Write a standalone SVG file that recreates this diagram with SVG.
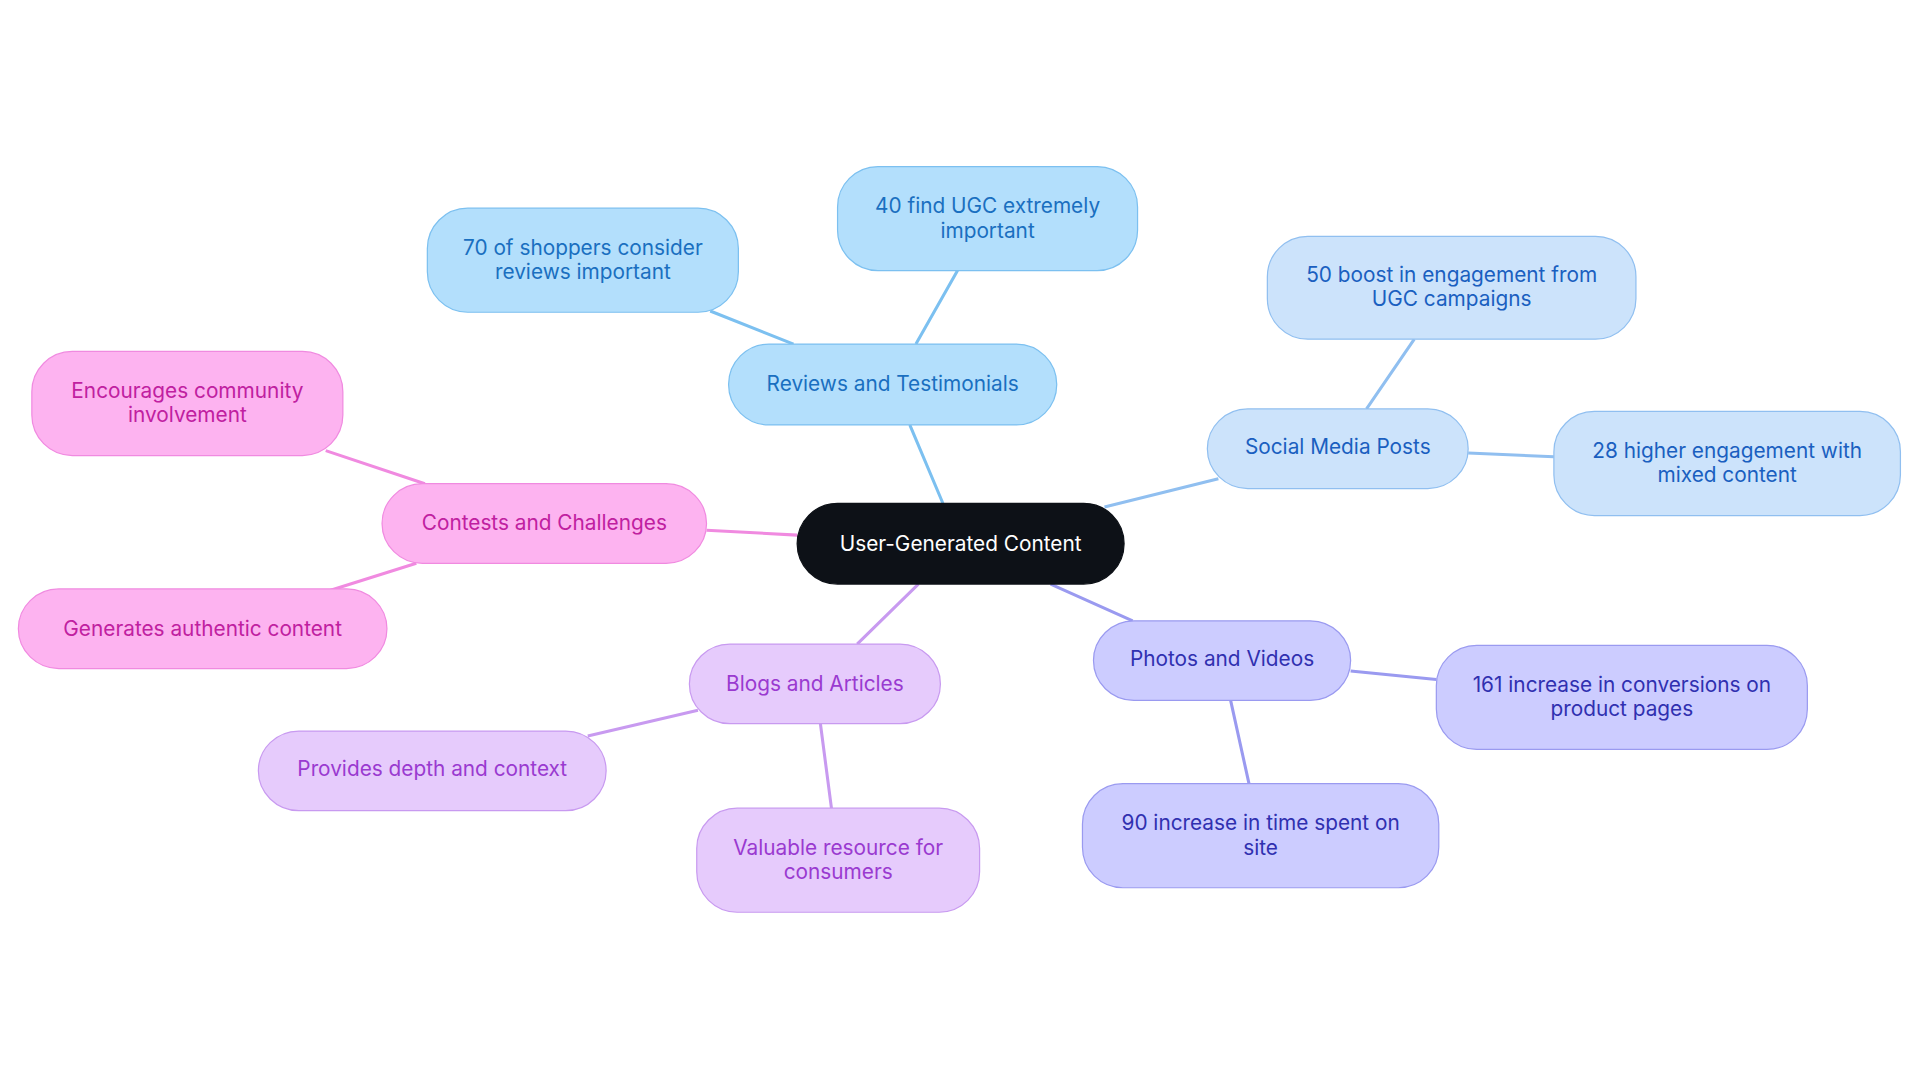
<svg xmlns="http://www.w3.org/2000/svg" width="1920" height="1083" viewBox="0 0 1920 1083">
<style>
text{font-family:Inter,"Noto Sans",sans-serif;font-size:17px;text-anchor:middle}
.e{fill:none;stroke-width:2.5}
.c rect{fill:#0d1117;stroke:#0d1117}.c text{fill:#fff}
.r rect{fill:#b3dffc;stroke:#7cc0f0}.r text{fill:#1a6fc0}
.s rect{fill:#cce3fb;stroke:#90bff0}.s text{fill:#1a5fc0}
.p rect{fill:#ccccff;stroke:#9a9af0}.p text{fill:#3030b0}
.b rect{fill:#e6cbfc;stroke:#c89af0}.b text{fill:#9a3ad0}
.k rect{fill:#fdb3f0;stroke:#f08ae0}.k text{fill:#c020a0}
</style>
<rect width="1920" height="1083" fill="#fff"/>
<g transform="scale(1.2245)">
<g id="connectors">
<path class="e" stroke="#7cc0f0" d="M770 411L743 347M648 281L580 254M748 281L782 221"/>
<path class="e" stroke="#90bff0" d="M902 414L995 391M1116 334L1155 277M1199 370L1269 373"/>
<path class="e" stroke="#9a9af0" d="M858 477L925 507M1103 548L1173 555M1005 572L1020 640"/>
<path class="e" stroke="#c89af0" d="M750 477L700 526M570 580L480 601M670 591L679 660"/>
<path class="e" stroke="#f08ae0" d="M651 437L577 433M347 395L266 368M340 460L270 482"/>
</g>
<g id="center" class="c"><rect x="651" y="411" width="267" height="66" rx="33"/><text x="784.5" y="450">User-Generated Content</text></g>
<g id="reviews" class="r"><rect x="595" y="281" width="268" height="66" rx="33"/><text x="729" y="319">Reviews and Testimonials</text></g>
<g id="r70" class="r"><rect x="349" y="170" width="254" height="85" rx="33"/><text x="476" y="208">70 of shoppers consider</text><text x="476" y="228">reviews important</text></g>
<g id="r40" class="r"><rect x="684" y="136" width="245" height="85" rx="33"/><text x="806.5" y="174">40 find UGC extremely</text><text x="806.5" y="194">important</text></g>
<g id="social" class="s"><rect x="986" y="334" width="213" height="65" rx="33"/><text x="1092.5" y="371">Social Media Posts</text></g>
<g id="s50" class="s"><rect x="1035" y="193" width="301" height="84" rx="33"/><text x="1185.5" y="230">50 boost in engagement from</text><text x="1185.5" y="250">UGC campaigns</text></g>
<g id="s28" class="s"><rect x="1269" y="336" width="283" height="85" rx="33"/><text x="1410.5" y="374">28 higher engagement with</text><text x="1410.5" y="394">mixed content</text></g>
<g id="photos" class="p"><rect x="893" y="507" width="210" height="65" rx="33"/><text x="998" y="544">Photos and Videos</text></g>
<g id="p161" class="p"><rect x="1173" y="527" width="303" height="85" rx="33"/><text x="1324.5" y="565">161 increase in conversions on</text><text x="1324.5" y="585">product pages</text></g>
<g id="p90" class="p"><rect x="884" y="640" width="291" height="85" rx="33"/><text x="1029.5" y="678">90 increase in time spent on</text><text x="1029.5" y="698">site</text></g>
<g id="blogs" class="b"><rect x="563" y="526" width="205" height="65" rx="33"/><text x="665.5" y="564">Blogs and Articles</text></g>
<g id="provides" class="b"><rect x="211" y="597" width="284" height="65" rx="33"/><text x="353" y="634">Provides depth and context</text></g>
<g id="valuable" class="b"><rect x="569" y="660" width="231" height="85" rx="33"/><text x="684.5" y="698">Valuable resource for</text><text x="684.5" y="718">consumers</text></g>
<g id="contests" class="k"><rect x="312" y="395" width="265" height="65" rx="33"/><text x="444.5" y="433">Contests and Challenges</text></g>
<g id="encourages" class="k"><rect x="26" y="287" width="254" height="85" rx="33"/><text x="153" y="325">Encourages community</text><text x="153" y="345">involvement</text></g>
<g id="generates" class="k"><rect x="15" y="481" width="301" height="65" rx="33"/><text x="165.5" y="519">Generates authentic content</text></g>
</g>
</svg>
